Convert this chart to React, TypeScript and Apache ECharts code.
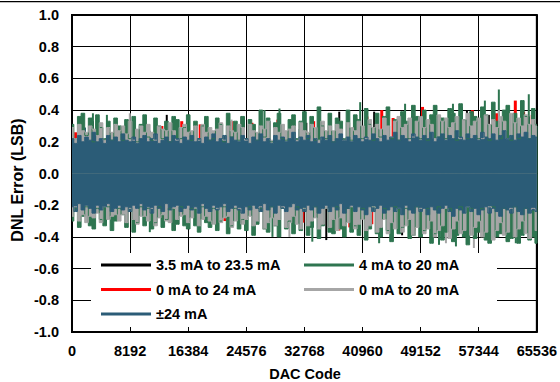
import React, { useEffect, useRef } from "react";
import * as echarts from "echarts";

const FONT = '"Liberation Sans", Arial, Helvetica, sans-serif';

const xTicks = [0, 8192, 16384, 24576, 32768, 40960, 49152, 57344, 65536];
const yMin = -1.0;
const yMax = 1.0;

const seriesNames = ["3.5 mA to 23.5 mA", "4 mA to 20 mA", "0 mA to 24 mA", "0 mA to 20 mA", "±24 mA"];
const seriesColors = ["#000000", "#2e7550", "#ff0000", "#a6a6a6", "#2b5c77"];

// envelope sampling codes (every 512 codes)
const envelopeStep = 512;
const envelopeCodes = Array.from({ length: 129 }, (_, i) => i * envelopeStep);

// 0 mA to 20 mA (gray) envelope
const grayHi = [
  0.29, 0.22, 0.31, 0.27, 0.26, 0.30, 0.28, 0.24, 0.32, 0.21, 0.29, 0.26, 0.31, 0.27, 0.30, 0.25,
  0.33, 0.21, 0.28, 0.30, 0.26, 0.31, 0.26, 0.21, 0.30, 0.28, 0.27, 0.32, 0.27, 0.21, 0.29, 0.31,
  0.26, 0.27, 0.30, 0.21, 0.31, 0.26, 0.29, 0.27, 0.28, 0.32, 0.21, 0.30, 0.27, 0.26, 0.31, 0.29,
  0.21, 0.31, 0.27, 0.26, 0.30, 0.28, 0.33, 0.21, 0.29, 0.26, 0.31, 0.27, 0.28, 0.30, 0.21, 0.32,
  0.27, 0.26, 0.31, 0.29, 0.21, 0.33, 0.27, 0.30, 0.27, 0.31, 0.28, 0.21, 0.32, 0.29, 0.27, 0.33,
  0.30, 0.22, 0.34, 0.29, 0.31, 0.28, 0.35, 0.30, 0.23, 0.33, 0.36, 0.29, 0.31, 0.35, 0.23, 0.33,
  0.36, 0.29, 0.34, 0.31, 0.22, 0.37, 0.33, 0.35, 0.29, 0.32, 0.36, 0.22, 0.34, 0.38, 0.30, 0.33,
  0.35, 0.22, 0.37, 0.31, 0.34, 0.29, 0.36, 0.33, 0.22, 0.38, 0.32, 0.35, 0.30, 0.37, 0.31, 0.34, 0.30,
];
const grayLo = [
  -0.27, -0.21, -0.30, -0.26, -0.31, -0.27, -0.28, -0.25, -0.31, -0.21, -0.29, -0.27, -0.26, -0.30, -0.26, -0.31,
  -0.22, -0.29, -0.32, -0.27, -0.27, -0.30, -0.22, -0.33, -0.28, -0.26, -0.30, -0.31, -0.22, -0.29, -0.27, -0.26,
  -0.31, -0.28, -0.22, -0.33, -0.29, -0.27, -0.30, -0.32, -0.22, -0.31, -0.28, -0.27, -0.34, -0.30, -0.22, -0.32,
  -0.29, -0.27, -0.33, -0.30, -0.21, -0.35, -0.31, -0.28, -0.33, -0.29, -0.21, -0.34, -0.31, -0.27, -0.32, -0.35,
  -0.22, -0.33, -0.30, -0.28, -0.35, -0.32, -0.22, -0.34, -0.29, -0.36, -0.28, -0.33, -0.31, -0.21, -0.35, -0.32,
  -0.29, -0.36, -0.33, -0.21, -0.37, -0.34, -0.29, -0.38, -0.31, -0.35, -0.22, -0.37, -0.33, -0.29, -0.39, -0.34,
  -0.22, -0.38, -0.35, -0.30, -0.40, -0.36, -0.33, -0.22, -0.41, -0.35, -0.30, -0.38, -0.36, -0.21, -0.39, -0.34,
  -0.30, -0.40, -0.37, -0.21, -0.42, -0.36, -0.31, -0.39, -0.37, -0.22, -0.40, -0.35, -0.30, -0.38, -0.41, -0.22, -0.36,
];

// ±24 mA (blue) envelope
const blueHi = [
  0.22, 0.19, 0.24, 0.20, 0.23, 0.21, 0.26, 0.20, 0.22, 0.19, 0.24, 0.21, 0.23, 0.20, 0.25, 0.21,
  0.20, 0.23, 0.19, 0.22, 0.24, 0.20, 0.22, 0.25, 0.19, 0.21, 0.23, 0.20, 0.24, 0.22, 0.19, 0.23,
  0.21, 0.24, 0.20, 0.22, 0.19, 0.23, 0.21, 0.25, 0.20, 0.22, 0.24, 0.19, 0.23, 0.21, 0.20, 0.24,
  0.22, 0.19, 0.23, 0.21, 0.25, 0.20, 0.22, 0.19, 0.24, 0.21, 0.23, 0.20, 0.22, 0.26, 0.20, 0.23,
  0.21, 0.24, 0.20, 0.22, 0.19, 0.23, 0.21, 0.24, 0.20, 0.22, 0.25, 0.21, 0.23, 0.20, 0.24, 0.22,
  0.20, 0.23, 0.21, 0.25, 0.22, 0.20, 0.24, 0.21, 0.23, 0.26, 0.21, 0.24, 0.22, 0.20, 0.25, 0.23,
  0.21, 0.24, 0.22, 0.26, 0.20, 0.23, 0.25, 0.21, 0.24, 0.22, 0.27, 0.23, 0.21, 0.25, 0.22, 0.24,
  0.21, 0.26, 0.23, 0.22, 0.25, 0.21, 0.24, 0.27, 0.22, 0.24, 0.21, 0.25, 0.23, 0.26, 0.22, 0.24, 0.23,
];
const blueLo = [
  -0.21, -0.24, -0.19, -0.23, -0.20, -0.22, -0.25, -0.20, -0.23, -0.21, -0.19, -0.24, -0.22, -0.20, -0.23, -0.21,
  -0.24, -0.20, -0.22, -0.19, -0.23, -0.21, -0.25, -0.20, -0.22, -0.24, -0.19, -0.23, -0.21, -0.20, -0.24, -0.22,
  -0.20, -0.23, -0.21, -0.25, -0.19, -0.22, -0.24, -0.20, -0.23, -0.21, -0.19, -0.24, -0.22, -0.20, -0.23, -0.25,
  -0.21, -0.23, -0.20, -0.22, -0.24, -0.19, -0.23, -0.21, -0.25, -0.20, -0.22, -0.24, -0.21, -0.19, -0.23, -0.22,
  -0.24, -0.20, -0.23, -0.21, -0.25, -0.22, -0.20, -0.24, -0.21, -0.23, -0.19, -0.25, -0.22, -0.20, -0.24, -0.21,
  -0.23, -0.26, -0.21, -0.24, -0.22, -0.20, -0.25, -0.23, -0.21, -0.24, -0.22, -0.26, -0.20, -0.23, -0.25, -0.21,
  -0.24, -0.22, -0.26, -0.21, -0.23, -0.25, -0.22, -0.20, -0.24, -0.27, -0.22, -0.23, -0.25, -0.21, -0.24, -0.22,
  -0.26, -0.23, -0.21, -0.25, -0.22, -0.24, -0.27, -0.22, -0.23, -0.25, -0.21, -0.24, -0.26, -0.22, -0.25, -0.23, -0.24,
];

// 4 mA to 20 mA (green) envelope
const greenHi = [
  0.31, 0.22, 0.36, 0.38, 0.24, 0.35, 0.20, 0.37, 0.29, 0.22, 0.33, 0.21, 0.35, 0.30, 0.21, 0.34,
  0.22, 0.36, 0.20, 0.31, 0.37, 0.23, 0.21, 0.35, 0.30, 0.22, 0.33, 0.20, 0.36, 0.34, 0.22, 0.29,
  0.37, 0.21, 0.33, 0.22, 0.30, 0.36, 0.21, 0.22, 0.35, 0.31, 0.20, 0.38, 0.23, 0.33, 0.21, 0.36,
  0.22, 0.34, 0.31, 0.21, 0.40, 0.23, 0.35, 0.20, 0.32, 0.38, 0.22, 0.21, 0.34, 0.37, 0.22, 0.33,
  0.39, 0.22, 0.36, 0.21, 0.42, 0.30, 0.22, 0.38, 0.20, 0.35, 0.33, 0.22, 0.40, 0.21, 0.37, 0.34,
  0.22, 0.41, 0.31, 0.21, 0.38, 0.23, 0.36, 0.42, 0.22, 0.34, 0.21, 0.39, 0.33, 0.22, 0.43, 0.36,
  0.22, 0.40, 0.21, 0.37, 0.43, 0.23, 0.35, 0.22, 0.41, 0.38, 0.21, 0.44, 0.34, 0.22, 0.39, 0.36,
  0.22, 0.42, 0.37, 0.21, 0.45, 0.33, 0.22, 0.40, 0.43, 0.21, 0.38, 0.22, 0.46, 0.36, 0.22, 0.41, 0.31,
];
const greenLo = [
  -0.30, -0.22, -0.34, -0.27, -0.21, -0.33, -0.35, -0.22, -0.29, -0.33, -0.21, -0.36, -0.30, -0.22, -0.26, -0.34,
  -0.22, -0.37, -0.31, -0.21, -0.33, -0.22, -0.35, -0.31, -0.21, -0.34, -0.29, -0.22, -0.36, -0.32, -0.21, -0.33,
  -0.35, -0.22, -0.33, -0.37, -0.21, -0.31, -0.34, -0.22, -0.36, -0.30, -0.21, -0.38, -0.33, -0.22, -0.35, -0.29,
  -0.36, -0.21, -0.39, -0.32, -0.22, -0.35, -0.37, -0.21, -0.33, -0.40, -0.22, -0.35, -0.30, -0.38, -0.21, -0.36,
  -0.22, -0.39, -0.34, -0.21, -0.41, -0.33, -0.22, -0.37, -0.38, -0.21, -0.35, -0.40, -0.22, -0.37, -0.33, -0.39,
  -0.22, -0.42, -0.35, -0.21, -0.38, -0.40, -0.22, -0.36, -0.43, -0.21, -0.38, -0.34, -0.22, -0.41, -0.39, -0.21,
  -0.40, -0.36, -0.22, -0.44, -0.38, -0.21, -0.42, -0.37, -0.22, -0.43, -0.39, -0.21, -0.40, -0.45, -0.22, -0.41,
  -0.37, -0.22, -0.42, -0.44, -0.21, -0.40, -0.38, -0.22, -0.43, -0.41, -0.21, -0.44, -0.39, -0.22, -0.42, -0.40, -0.44,
];

// isolated peaks [DAC code, DNL]
const blackPeaks = [
  [2950, 0.33], [8150, 0.31], [13360, 0.37], [16310, 0.32], [23900, 0.36], [27840, 0.33], [33040, 0.32],
  [37680, 0.39], [42600, 0.39], [47520, 0.34], [51320, 0.33], [55680, 0.40], [58770, 0.37], [64400, 0.36],
  [4220, -0.30], [16170, -0.31], [23620, -0.33], [29250, -0.40], [35850, -0.42], [40490, -0.35], [46540, -0.39],
  [50620, -0.40], [54270, -0.35], [59050, -0.34], [64120, -0.36],
];
const greenPeaks = [
  [2950, 0.38], [4920, 0.37], [27140, 0.40], [29250, 0.41], [40630, 0.45], [46960, 0.44], [53710, 0.44],
  [54980, 0.42], [58210, 0.46], [60180, 0.53], [64400, 0.50], [65380, 0.30], [65500, 0.30],
  [10970, -0.37], [28260, -0.40], [33880, -0.43], [43300, -0.44], [51740, -0.45], [54130, -0.46],
  [62570, -0.44], [65380, -0.44], [65500, -0.44],
];
const redPeaks = [
  [420, 0.26], [3500, 0.31], [9980, 0.30], [12600, 0.30], [15400, 0.33], [18000, 0.31], [22500, 0.33],
  [25300, 0.32], [28960, 0.34], [31000, 0.34], [34000, 0.33], [36280, 0.37], [39930, 0.35], [41500, 0.36],
  [43600, 0.40], [45200, 0.35], [47950, 0.36], [49350, 0.42], [51740, 0.36], [53300, 0.37], [56380, 0.40],
  [58070, 0.35], [59800, 0.38], [61000, 0.36], [62430, 0.46], [63600, 0.39], [64820, 0.37],
  [2100, -0.30], [6470, -0.28], [9140, -0.29], [13800, -0.31], [19120, -0.27], [21500, -0.30], [25900, -0.32],
  [27140, -0.30], [30100, -0.33], [32480, -0.31], [37540, -0.36], [39100, -0.34], [42200, -0.32], [44710, -0.30],
  [45840, -0.33], [48200, -0.36], [51740, -0.33], [54980, -0.32], [57200, -0.37], [58900, -0.35], [60460, -0.38],
  [61800, -0.39], [62990, -0.36], [64680, -0.37],
];
const grayPeaks = [
  [8150, 0.38], [22500, 0.34], [36280, 0.35], [60180, 0.40],
  [30650, -0.40], [52720, -0.44], [56660, -0.47], [61580, -0.42],
];
const bluePeaks = [
  [1830, 0.29], [10970, 0.27], [32060, 0.28], [48930, 0.29],
  [18000, -0.27], [43300, -0.28], [55960, -0.29],
];

function band(name: string, color: string, values: number[]) {
  return {
    name,
    type: "line",
    color,
    step: "middle",
    data: envelopeCodes.map((c, i) => [c, values[i]]),
    symbol: "none",
    showSymbol: false,
    lineStyle: { color, width: 1 },
    itemStyle: { color },
    areaStyle: { color, opacity: 1 },
    emphasis: { disabled: true },
    silent: true,
  };
}

function peaks(name: string, color: string, pts: number[][], width: number) {
  return {
    name,
    type: "bar",
    color,
    data: pts,
    barWidth: width,
    barGap: "-100%",
    itemStyle: { color },
    emphasis: { disabled: true },
    silent: true,
  };
}

export default function App() {
  const ref = useRef<HTMLDivElement>(null);

  useEffect(() => {
    if (!ref.current) return;
    const chart = echarts.init(ref.current, null, { renderer: "svg" });
    const labelStyle = { color: "#000", fontWeight: "bold", fontSize: 14.5, fontFamily: FONT };
    const legendCommon = {
      orient: "vertical",
      icon: "rect",
      itemWidth: 50,
      itemHeight: 3,
      itemGap: 8.5,
      padding: 0,
      z: 20,
      selectedMode: false,
      textStyle: { ...labelStyle, lineHeight: 16 },
    };
    chart.setOption({
      animation: false,
      grid: {
        left: 72,
        right: 22,
        top: 15,
        bottom: 50,
        show: true,
        borderColor: "#000",
        borderWidth: 2,
        backgroundColor: "transparent",
      },
      xAxis: {
        type: "value",
        min: xTicks[0],
        max: xTicks[xTicks.length - 1],
        interval: xTicks[1] - xTicks[0],
        axisLine: { show: false },
        axisTick: { show: false },
        splitLine: { show: true, lineStyle: { color: "#000", width: 1 } },
        axisLabel: { ...labelStyle, margin: 11, formatter: (v: number) => String(v) },
      },
      yAxis: {
        type: "value",
        min: yMin,
        max: yMax,
        interval: 0.2,
        axisLine: { show: false },
        axisTick: { show: false },
        splitLine: { show: true, lineStyle: { color: "#000", width: 1 } },
        axisLabel: {
          ...labelStyle,
          margin: 13,
          formatter: (v: number) => (Math.abs(v) < 1e-9 ? "0.0" : v.toFixed(1)),
        },
      },
      legend: [
        { ...legendCommon, data: [seriesNames[0], seriesNames[2], seriesNames[4]], left: 101, top: 257 },
        { ...legendCommon, data: [seriesNames[1], seriesNames[3]], left: 304, top: 257 },
      ],
      graphic: [
        { type: "rect", z: 10, shape: { x: 0, y: 1, width: 560, height: 1.2 }, style: { fill: "#000" } },
        { type: "rect", z: 10, shape: { x: 91, y: 253, width: 406, height: 74 }, style: { fill: "#fff" } },
        {
          type: "text",
          z: 10,
          x: 305,
          y: 373.5,
          style: {
            text: "DAC Code",
            fontWeight: "bold",
            fontSize: 14.5,
            fontFamily: FONT,
            fill: "#000",
            align: "center",
            verticalAlign: "middle",
          },
        },
        {
          type: "text",
          z: 10,
          x: 17,
          y: 180,
          rotation: Math.PI / 2,
          style: {
            text: "DNL Error (LSB)",
            fontWeight: "bold",
            fontSize: 16,
            fontFamily: FONT,
            fill: "#000",
            align: "center",
            verticalAlign: "middle",
          },
        },
      ],
      series: [
        peaks(seriesNames[0], seriesColors[0], blackPeaks, 2),
        band(seriesNames[1], seriesColors[1], greenHi),
        band(seriesNames[1], seriesColors[1], greenLo),
        peaks(seriesNames[1], seriesColors[1], greenPeaks, 2),
        peaks(seriesNames[2], seriesColors[2], redPeaks, 3),
        band(seriesNames[3], seriesColors[3], grayHi),
        band(seriesNames[3], seriesColors[3], grayLo),
        peaks(seriesNames[3], seriesColors[3], grayPeaks, 2),
        band(seriesNames[4], seriesColors[4], blueHi),
        band(seriesNames[4], seriesColors[4], blueLo),
        peaks(seriesNames[4], seriesColors[4], bluePeaks, 2),
      ],
    });
    return () => chart.dispose();
  }, []);

  return (
    <div
      ref={ref}
      style={{ position: "absolute", left: 0, top: 0, width: 560, height: 382, background: "#fff" }}
    />
  );
}
